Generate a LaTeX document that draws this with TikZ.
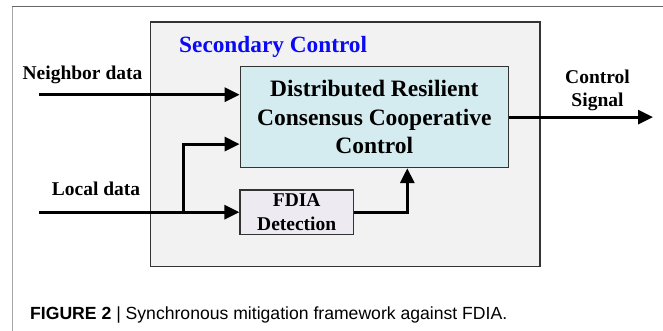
\documentclass[tikz,border=0pt]{standalone}
\usepackage{fontspec}
\setmainfont{Liberation Serif}
\newfontfamily\capfont{Liberation Sans}
\usetikzlibrary{arrows.meta}

\definecolor{panelgray}{RGB}{242,242,242}
\definecolor{corecyan}{RGB}{212,236,240}
\definecolor{detlilac}{RGB}{237,234,241}
\definecolor{edgegray}{RGB}{51,51,51}
\definecolor{secblue}{RGB}{10,10,245}

\tikzset{
  lbl/.style={font=\bfseries\fontsize{19.5}{23.3}\selectfont, inner sep=0pt},
  blockbox/.style={draw=edgegray, line width=1.4pt, inner sep=0pt, align=center,
    font=\bfseries\fontsize{23.5}{28.3}\selectfont},
  flow/.style={line width=3pt, -{Triangle[length=15pt,width=14pt]}}
}

\begin{document}
\begin{tikzpicture}[x=1pt,y=-1pt]
  \useasboundingbox (0,0) rectangle (663,331);

  % page frame
  \draw[line width=1.5pt, black!35] (12.7,331) -- (12.7,6.5);
  \draw[line width=1.5pt, black!60] (12,6.5) -- (663,6.5);

  % secondary control panel
  \node[draw=edgegray, fill=panelgray, line width=1.4pt, inner sep=0pt,
        minimum width=389.3pt, minimum height=244.7pt] (panel) at (345.35,144.35) {};
  \node[anchor=base west, font=\bfseries\fontsize{23.3}{27}\selectfont, text=secblue, inner sep=0pt]
    (title) at (179,52.5) {Secondary Control};

  % blocks
  \node[blockbox, fill=corecyan, minimum width=268pt, minimum height=100.8pt]
    (core) at (374.3,117.1) {Distributed Resilient\\Consensus Cooperative\\Control};
  \node[blockbox, fill=detlilac, minimum width=113.3pt, minimum height=44.3pt,
        font=\bfseries\fontsize{19.5}{23.3}\selectfont]
    (fdia) at (296.7,212.2) {FDIA\\Detection};

  % external labels
  \node[lbl, anchor=base] (nblbl) at (82.5,80) {Neighbor data};
  \node[lbl, anchor=base] (ldlbl) at (96,195.7) {Local data};
  \node[lbl, anchor=base, align=center] (cslbl) at (597.5,106.5) {Control\\Signal};

  % connector end points
  \coordinate (nbin) at (39,94.7);
  \coordinate (ldin) at (39,212.2);
  \coordinate (split) at (183.3,212.2);
  \coordinate (rise) at (407.3,0);
  \coordinate (out) at (653,117.1);

  % signal flow
  \draw[flow] (nbin) -- (nbin -| core.west);
  \draw[flow] (ldin) -- (fdia.west);
  \draw[flow] (split) |- ([yshift=-27pt]core.west);
  \draw[flow] (fdia.east) -| (rise |- core.south);
  \draw[flow] (core.east) -- (out);

  % caption
  \node[anchor=base west, inner sep=0pt, font=\capfont\fontsize{17.6}{20}\selectfont]
    (cap) at (30,319.5) {\textbf{FIGURE 2} | Synchronous mitigation framework against FDIA.};
\end{tikzpicture}
\end{document}
